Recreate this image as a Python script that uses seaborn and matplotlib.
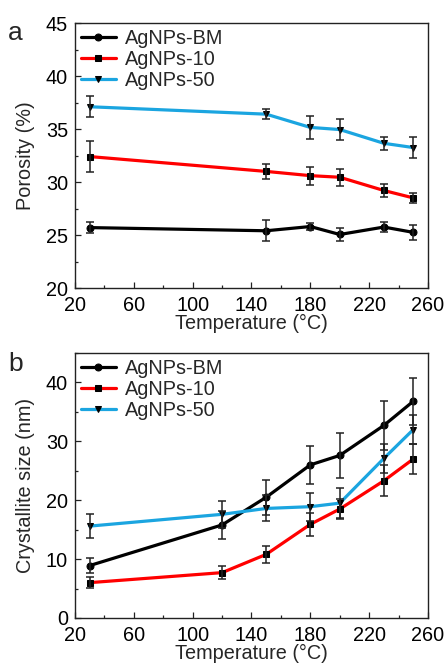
import matplotlib
matplotlib.use("Agg")
import matplotlib.pyplot as plt
import seaborn as sns
import pandas as pd
from matplotlib.ticker import MultipleLocator, FixedLocator

sns.set_theme(style="ticks")
plt.rcParams['font.family'] = ['Liberation Sans', 'DejaVu Sans']

series_names = ["AgNPs-BM", "AgNPs-10", "AgNPs-50"]
colors = ["#000000", "#FF0000", "#1BA5E0"]
markers = ["o", "s", "v"]
x_major = [20, 60, 100, 140, 180, 220, 260]
x_minor = [40, 80, 120, 160, 200, 240]

# Panel a: porosity
temp_a = [30, 150, 180, 200, 230, 250]
por_bm = [25.7, 25.4, 25.8, 25.05, 25.75, 25.25]
por_bm_err = [0.55, 1.0, 0.3, 0.65, 0.5, 0.7]
por_10 = [32.4, 31.0, 30.6, 30.45, 29.2, 28.5]
por_10_err = [1.5, 0.7, 0.85, 0.8, 0.6, 0.45]
por_50 = [37.1, 36.4, 35.15, 34.95, 33.65, 33.25]
por_50_err = [1.0, 0.45, 1.05, 1.0, 0.6, 1.0]

# Panel b: crystallite size
temp_b = [30, 120, 150, 180, 200, 230, 250]
cs_bm = [8.9, 15.8, 20.5, 26.0, 27.6, 32.7, 36.8]
cs_bm_err = [1.2, 2.4, 3.0, 3.2, 3.8, 4.2, 4.0]
cs_10 = [6.0, 7.7, 10.8, 15.9, 18.5, 23.3, 27.0]
cs_10_err = [0.9, 1.1, 1.4, 2.0, 1.7, 2.6, 2.6]
cs_50 = [15.6, 17.6, 18.6, 18.9, 19.5, 27.1, 32.0]
cs_50_err = [2.1, 2.3, 2.2, 2.4, 2.5, 2.4, 2.4]

fig = plt.figure(figsize=(4.45, 6.67), dpi=100)
ax_a = fig.add_axes([0.1685, 0.5682, 0.7933, 0.3973])
ax_b = fig.add_axes([0.1685, 0.0735, 0.7933, 0.3973])

FS = 14.3

def draw(ax, temps, ys, errs, ylabel, ylim, ymaj, ymin):
    for name, col, mk, y, e in zip(series_names, colors, markers, ys, errs):
        df = pd.DataFrame({"T": temps, "v": y})
        sns.lineplot(data=df, x="T", y="v", ax=ax, color=col, lw=2.3,
                     marker=mk, markersize=5, markerfacecolor="black",
                     markeredgecolor="black", label=name, zorder=3)
        ax.errorbar(temps, y, yerr=e, fmt="none", ecolor="#222222",
                    elinewidth=1.1, capsize=3, capthick=1.1, zorder=4)
    ax.set_xlim(20, 260)
    ax.set_ylim(*ylim)
    ax.xaxis.set_major_locator(FixedLocator(x_major))
    ax.xaxis.set_minor_locator(FixedLocator(x_minor))
    ax.yaxis.set_major_locator(MultipleLocator(ymaj))
    ax.yaxis.set_minor_locator(MultipleLocator(ymin))
    ax.tick_params(which="both", direction="in", labelsize=FS, top=False, right=False,
                   width=0.9, colors="#222222", labelcolor="black")
    ax.tick_params(axis="x", which="major", length=4, pad=6)
    ax.tick_params(axis="y", which="major", length=4, pad=5)
    ax.tick_params(which="minor", length=2.5)
    ax.set_xlabel("Temperature (°C)", fontsize=FS, labelpad=-1)
    ax.set_ylabel(ylabel, fontsize=FS, labelpad=8)
    for s in ax.spines.values():
        s.set_linewidth(1.0)
        s.set_color("#222222")
    ax.legend(loc="upper left", frameon=False, fontsize=FS,
              handlelength=1.75, handletextpad=0.45, labelspacing=0.1,
              borderaxespad=0.1, borderpad=0.2)

draw(ax_a, temp_a, [por_bm, por_10, por_50], [por_bm_err, por_10_err, por_50_err],
     "Porosity (%)", (20, 45), 5, 2.5)
draw(ax_b, temp_b, [cs_bm, cs_10, cs_50], [cs_bm_err, cs_10_err, cs_50_err],
     "Crystallite size (nm)", (0, 45), 10, 5)

fig.text(8 / 445, 1 - 40 / 667, "a", fontsize=19, ha="left", va="baseline")
fig.text(8 / 445, 1 - 371 / 667, "b", fontsize=19, ha="left", va="baseline")

fig.savefig("out.png", dpi=100)
